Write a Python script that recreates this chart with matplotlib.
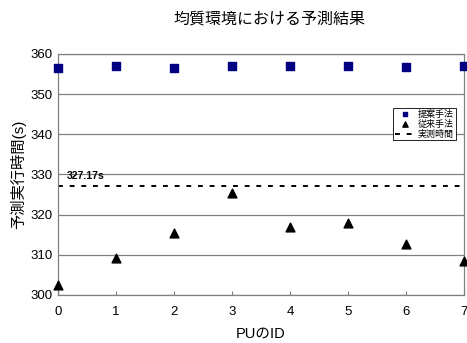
import matplotlib
matplotlib.use("Agg")
import matplotlib.pyplot as plt

plt.rcParams['font.family'] = ['Liberation Sans', 'Noto Sans CJK JP', 'DejaVu Sans']

pu_ids = [0, 1, 2, 3, 4, 5, 6, 7]
proposed = [356.5, 356.9, 356.6, 356.9, 356.9, 356.9, 356.8, 357.1]
conventional = [302.5, 309.2, 315.5, 325.4, 317.0, 318.0, 312.8, 308.5]
measured = 327.17

title = '均質環境における予測結果'
xlabel = 'PUのID'
ylabel = '予測実行時間(s)'
labels = ['提案手法', '従来手法', '実測時間']

fig = plt.figure(figsize=(4.67, 3.43), dpi=100)
ax = fig.add_axes([0.124, 0.140, 0.870, 0.703])

ax.set_xlim(0, 7)
ax.set_ylim(300, 360)
ax.set_yticks([300, 310, 320, 330, 340, 350, 360])
ax.set_xticks(pu_ids)
ax.yaxis.grid(True, color='#808080', linewidth=0.9)
ax.set_axisbelow(True)
for s in ax.spines.values():
    s.set_color('#808080')
    s.set_linewidth(0.9)
ax.tick_params(axis='x', direction='in', length=3, color='#808080', labelsize=9.5, pad=8)
ax.tick_params(axis='y', length=0, labelsize=9.5, pad=4)

ax.scatter(pu_ids, proposed, marker='s', s=26, color='#000080', clip_on=False, zorder=3, label=labels[0])
ax.scatter(pu_ids, conventional, marker='^', s=40, color='black', clip_on=False, zorder=3, label=labels[1])
ax.axhline(measured, color='black', linestyle=(0, (2.5, 3.5)), linewidth=1.4, label=labels[2], zorder=2)
ax.text(0.15, measured + 1.2, f'{measured}s', fontsize=7.5, fontweight='bold', va='bottom', ha='left')

ax.set_xlabel(xlabel, fontsize=10.5, labelpad=6)
ax.set_ylabel(ylabel, fontsize=11, labelpad=3)
fig.text(0.578, 0.945, title, fontsize=11.5, ha='center', va='center')

leg = ax.legend(loc='upper right', bbox_to_anchor=(0.99, 0.795), fontsize=6.5,
                frameon=True, fancybox=False, edgecolor='black', framealpha=1,
                borderpad=0.2, labelspacing=0.1, handlelength=2.2, handletextpad=0.3,
                scatterpoints=1, markerscale=0.6)
leg.get_frame().set_linewidth(0.6)

fig.savefig('out.png', dpi=100)
